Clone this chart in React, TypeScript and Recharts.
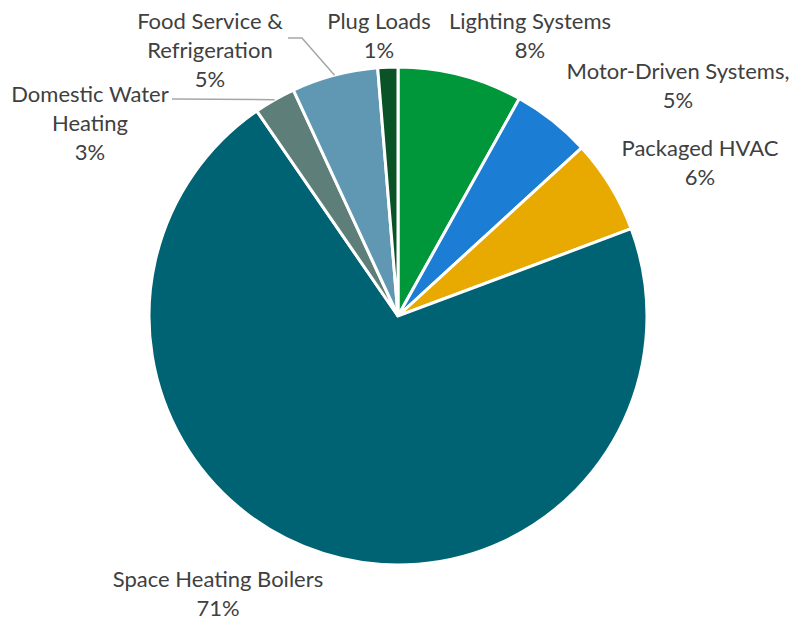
import React from "react";
import { PieChart, Pie, Cell } from "recharts";

const categories = [
  "Lighting Systems",
  "Motor-Driven Systems,",
  "Packaged HVAC",
  "Space Heating Boilers",
  "Domestic Water Heating",
  "Food Service & Refrigeration",
  "Plug Loads",
];
const shares = [8.1, 5.1, 6.1, 71.1, 2.7, 5.6, 1.3];
const percentLabels = ["8%", "5%", "6%", "71%", "3%", "5%", "1%"];
const colors = ["#00963a", "#1b7dd3", "#e8a900", "#006373", "#5e7f79", "#6097b2", "#0a5327"];

// how each label's name is split across lines
const labelLines = [
  ["Lighting Systems"],
  ["Motor-Driven Systems,"],
  ["Packaged HVAC"],
  ["Space Heating Boilers"],
  ["Domestic Water", "Heating"],
  ["Food Service &", "Refrigeration"],
  ["Plug Loads"],
];

// label block position relative to pie centre, plus optional leader line points
const labelLayout: { dx: number; dy: number; line?: [number, number][] }[] = [
  { dx: 132, dy: -296 },
  { dx: 280, dy: -246 },
  { dx: 302, dy: -169 },
  { dx: -180, dy: 262 },
  { dx: -308, dy: -223, line: [[-226, -217]] },
  { dx: -188, dy: -296, line: [[-110, -278], [-96, -278]] },
  { dx: -19, dy: -296 },
];

const data = categories.map((name, i) => ({ name, value: shares[i] }));

const RADIAN = Math.PI / 180;
const LINE_H = 29;

function renderLabel(props: any) {
  const { cx, cy, midAngle, outerRadius, index } = props;
  const layout = labelLayout[index];
  const x = cx + layout.dx;
  const y = cy + layout.dy;
  const lines = [...labelLines[index], percentLabels[index]];
  let leader = null;
  if (layout.line) {
    const ex = cx + outerRadius * Math.cos(-midAngle * RADIAN);
    const ey = cy + outerRadius * Math.sin(-midAngle * RADIAN);
    const pts = layout.line.map(([px, py]) => `${cx + px},${cy + py}`).concat(`${ex},${ey}`);
    leader = <polyline points={pts.join(" ")} fill="none" stroke="#a6a6a6" strokeWidth={1.5} />;
  }
  return (
    <g key={`lbl-${index}`}>
      {leader}
      <text
        x={x}
        y={y}
        textAnchor="middle"
        dominantBaseline="central"
        fill="#404040"
        style={{ fontFamily: "Lato, 'Open Sans', sans-serif", fontSize: 22 }}
      >
        {lines.map((t, i) => (
          <tspan key={i} x={x} dy={i === 0 ? 0 : LINE_H}>
            {t}
          </tspan>
        ))}
      </text>
    </g>
  );
}

export default function App() {
  return (
    <div style={{ position: "absolute", left: 0, top: 0, width: 801, height: 624, background: "#fff" }}>
      <PieChart width={801} height={624} margin={{ top: 0, right: 0, bottom: 0, left: 0 }}>
        <Pie
          data={data}
          dataKey="value"
          nameKey="name"
          cx={398}
          cy={316}
          outerRadius={249}
          startAngle={90}
          endAngle={-270}
          stroke="#ffffff"
          strokeWidth={3}
          label={renderLabel}
          labelLine={false}
          isAnimationActive={false}
        >
          {data.map((d, i) => (
            <Cell key={d.name} fill={colors[i]} />
          ))}
        </Pie>
      </PieChart>
    </div>
  );
}
